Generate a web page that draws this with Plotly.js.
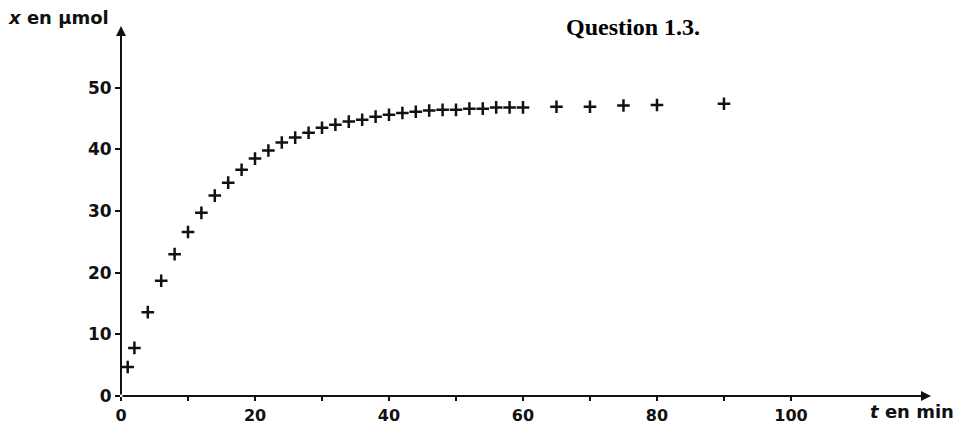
<!DOCTYPE html>
<html>
<head>
<meta charset="utf-8">
<script src="https://cdn.plot.ly/plotly-3.0.1.min.js"></script>
<style>html,body{margin:0;padding:0;background:#fff;}#chart{width:957px;height:425px;}</style>
</head>
<body>
<div id="chart"></div>
<script>
const timeMin = [1,2,4,6,8,10,12,14,16,18,20,22,24,26,28,30,32,34,36,38,40,42,44,46,48,50,52,54,56,58,60,65,70,75,80,90];
const xMicromol = [4.7,7.8,13.6,18.7,23.0,26.6,29.7,32.5,34.6,36.7,38.5,39.8,41.1,41.9,42.7,43.5,44.0,44.5,44.8,45.3,45.6,45.9,46.1,46.3,46.4,46.4,46.6,46.6,46.8,46.8,46.8,46.9,46.9,47.1,47.2,47.4];
const xTickVals = [0,10,20,30,40,50,60,70,80,90,100];
const xTickText = ['0','','20','','40','','60','','80','','100'];
const yTickVals = [0,10,20,30,40,50];
const yTickText = ['0','10','20','30','40','50'];

const XMAX = 120.9, YMAX = 60;
const yTickFont = {family: 'DejaVu Sans', size: 17, color: '#111', weight: 'bold'};
const xTickFont = {family: 'DejaVu Sans', size: 16, color: '#111', weight: 'bold'};

const trace = {
  x: timeMin, y: xMicromol, mode: 'markers', type: 'scatter',
  marker: {symbol: 'cross-thin', size: 9, line: {width: 2.5, color: '#111'}, color: '#111'},
  hoverinfo: 'skip'
};

const layout = {
  width: 957, height: 425,
  margin: {l: 121, r: 26, t: 26, b: 29},
  paper_bgcolor: '#fff', plot_bgcolor: '#fff',
  showlegend: false,
  xaxis: {range: [0, XMAX], showgrid: false, zeroline: false, showline: false,
    tickvals: xTickVals, ticktext: xTickText, ticks: 'outside', ticklen: 4, tickwidth: 2, tickcolor: '#111',
    ticklabelstandoff: 1, tickfont: xTickFont, fixedrange: true},
  yaxis: {range: [0, YMAX], showgrid: false, zeroline: false, showline: false,
    tickvals: yTickVals, ticktext: yTickText, ticks: 'outside', ticklen: 5, tickwidth: 2, tickcolor: '#111',
    tickfont: yTickFont, fixedrange: true},
  annotations: [
    {xref: 'x', yref: 'y', axref: 'x', ayref: 'y', x: XMAX, y: 0, ax: 0, ay: 0,
     showarrow: true, arrowhead: 2, arrowsize: 1, arrowwidth: 2, arrowcolor: '#111', text: ''},
    {xref: 'x', yref: 'y', axref: 'x', ayref: 'y', x: 0, y: YMAX, ax: 0, ay: 0,
     showarrow: true, arrowhead: 2, arrowsize: 1, arrowwidth: 2, arrowcolor: '#111', text: ''},
    {xref: 'paper', yref: 'paper', x: -121/810, y: 1 + 9/370, xanchor: 'left', yanchor: 'middle', xshift: 6,
     showarrow: false, text: '<i>x</i> en µmol', font: {family: 'DejaVu Sans', size: 18, color: '#111', weight: 'bold'}},
    {xref: 'paper', yref: 'paper', x: 1 + 26/810, y: -15/370, xanchor: 'right', yanchor: 'middle', xshift: -1,
     showarrow: false, text: '<i>t</i> en min', font: {family: 'DejaVu Sans', size: 18, color: '#111', weight: 'bold'}},
    {xref: 'paper', yref: 'paper', x: (633 - 121)/810, y: 1 - 1/370, xanchor: 'center', yanchor: 'middle',
     showarrow: false, text: 'Question 1.3.', font: {family: 'Liberation Serif', size: 24, color: '#000', weight: 'bold'}}
  ]
};

Plotly.newPlot('chart', [trace], layout, {staticPlot: true, displayModeBar: false});
</script>
</body>
</html>
